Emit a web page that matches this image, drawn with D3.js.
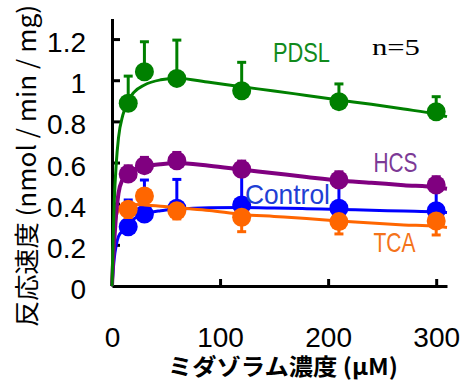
<!DOCTYPE html>
<html>
<head>
<meta charset="utf-8">
<script src="https://cdn.jsdelivr.net/npm/d3@7"></script>
<style>
  body { margin: 0; background: #fff; }
  svg { display: block; }
</style>
</head>
<body>
<svg id="chart" width="462" height="388"></svg>
<script>
// measured points (midazolam conc, uM)
var conc = [15, 30, 60, 120, 210, 300];

var pdslMean = [0.888, 1.041, 1.009, 0.949, 0.896, 0.847];
var pdslSd   = [0.132, 0.146, 0.186, 0.138, 0.086, 0.073];
var hcsMean  = [0.544, 0.585, 0.609, 0.567, 0.515, 0.491];
var hcsSd    = [0.04, 0.04, 0.04, 0.04, 0.04, 0.04];
var ctrlMean = [0.288, 0.350, 0.378, 0.394, 0.378, 0.366];
var ctrlSd   = [0.130, 0.165, 0.140, 0.165, 0.135, 0.115];
var tcaMean  = [0.373, 0.437, 0.366, 0.334, 0.313, 0.316];
var tcaSd    = [0.04, 0.04, 0.04, 0.070, 0.060, 0.068];

// fitted curves
var curveConc = [0, 1, 2, 4, 6, 10, 15, 20, 30, 45, 60, 90, 120, 150, 180, 210, 240, 270, 300, 310];
var pdslFit = [0, 0.22, 0.40, 0.60, 0.72, 0.83, 0.90, 0.94, 0.977, 1.002, 1.010, 0.990, 0.968, 0.948, 0.926, 0.904, 0.883, 0.860, 0.835, 0.823];
var hcsFit  = [0, 0.12, 0.21, 0.36, 0.45, 0.52, 0.55, 0.565, 0.580, 0.592, 0.598, 0.584, 0.566, 0.548, 0.530, 0.513, 0.502, 0.490, 0.480, 0.473];
var ctrlFit = [0, 0.07, 0.13, 0.20, 0.24, 0.27, 0.30, 0.325, 0.350, 0.366, 0.373, 0.380, 0.381, 0.379, 0.376, 0.372, 0.368, 0.364, 0.360, 0.357];
var tcaFit  = [0, 0.15, 0.26, 0.34, 0.37, 0.39, 0.395, 0.396, 0.394, 0.388, 0.380, 0.367, 0.348, 0.338, 0.328, 0.316, 0.306, 0.297, 0.290, 0.284];

var xTicks = [0, 100, 200, 300];
var yTicks = [0, 0.2, 0.4, 0.6, 0.8, 1, 1.2];

var svg = d3.select("#chart");

var x = d3.scaleLinear().domain([0, 310]).range([112, 447]);
var y = d3.scaleLinear().domain([0, 1.3]).range([286, 18.5]);

// series in drawing order (later = on top)
var series = [
  {name: "Control", color: "#0000ff", lw: 3, mean: ctrlMean, sd: ctrlSd, dir: -1, fit: ctrlFit,
   label: {s: 123, v: 0.40, w: 85, color: "#1f3fd4"}},
  {name: "TCA", color: "#ff6600", lw: 3, mean: tcaMean, sd: tcaSd, dir: 1, fit: tcaFit,
   label: {s: 242, v: 0.167, w: 42, color: "#f4731a"}},
  {name: "HCS", color: "#800080", lw: 4, mean: hcsMean, sd: hcsSd, dir: -1, fit: hcsFit,
   label: {s: 242, v: 0.555, w: 44, color: "#7c3a96"}},
  {name: "PDSL", color: "#008000", lw: 3, mean: pdslMean, sd: pdslSd, dir: -1, fit: pdslFit,
   label: {s: 149, v: 1.09, w: 57, color: "#118a1c"}}
];

var line = d3.line()
  .x(function(d) { return x(d[0]); })
  .y(function(d) { return y(d[1]); })
  .curve(d3.curveMonotoneX);

// axes
var yAxis = d3.axisLeft(y)
  .tickValues(yTicks)
  .tickSizeInner(-8)
  .tickSizeOuter(0)
  .tickPadding(26)
  .tickFormat(function(d) { return String(+d.toFixed(1)); });

var xAxis = d3.axisBottom(x)
  .tickValues(xTicks)
  .tickSizeInner(-7)
  .tickSizeOuter(0)
  .tickPadding(41);

var gy = svg.append("g")
  .attr("transform", "translate(" + x(0) + ",0)")
  .call(yAxis);
var gx = svg.append("g")
  .attr("transform", "translate(0," + y(0) + ")")
  .call(xAxis);

[gx, gy].forEach(function(g) {
  g.select(".domain").attr("stroke", "#000").attr("stroke-width", 3);
  g.selectAll(".tick line").attr("stroke", "#000").attr("stroke-width", 3);
  g.selectAll(".tick text")
    .attr("fill", "#000")
    .style("font-family", "'Liberation Sans', Arial, sans-serif")
    .style("font-size", "28px");
});
gy.selectAll(".tick text").attr("dy", "0.45em");
gy.selectAll(".tick").filter(function(d) { return d === 0; }).select("line").remove();
gx.selectAll(".tick").filter(function(d) { return d === 0; }).select("line").remove();

// series
series.forEach(function(s) {
  var g = svg.append("g");
  var pts = conc.map(function(c, i) { return [c, s.mean[i], s.sd[i]]; });

  g.append("path")
    .datum(curveConc.map(function(c, i) { return [c, s.fit[i]]; }))
    .attr("fill", "none")
    .attr("stroke", s.color)
    .attr("stroke-width", s.lw)
    .attr("d", line);

  // one-sided error bars
  var eb = g.selectAll(".eb").data(pts).enter().append("g");
  eb.append("line")
    .attr("x1", function(d) { return x(d[0]); })
    .attr("x2", function(d) { return x(d[0]); })
    .attr("y1", function(d) { return y(d[1]); })
    .attr("y2", function(d) { return y(d[1] - s.dir * d[2]); })
    .attr("stroke", s.color)
    .attr("stroke-width", 3);
  eb.append("line")
    .attr("x1", function(d) { return x(d[0]) - 4.5; })
    .attr("x2", function(d) { return x(d[0]) + 4.5; })
    .attr("y1", function(d) { return y(d[1] - s.dir * d[2]); })
    .attr("y2", function(d) { return y(d[1] - s.dir * d[2]); })
    .attr("stroke", s.color)
    .attr("stroke-width", 3);

  g.selectAll("circle").data(pts).enter().append("circle")
    .attr("cx", function(d) { return x(d[0]); })
    .attr("cy", function(d) { return y(d[1]); })
    .attr("r", 9.5)
    .attr("fill", s.color);
});

// series labels
series.forEach(function(s) {
  svg.append("text")
    .attr("x", x(s.label.s))
    .attr("y", y(s.label.v))
    .attr("textLength", s.label.w)
    .attr("lengthAdjust", "spacingAndGlyphs")
    .attr("fill", s.label.color)
    .style("font-family", "'Liberation Sans', Arial, sans-serif")
    .style("font-size", "28px")
    .text(s.name);
});

svg.append("text")
  .attr("x", x(240.5))
  .attr("y", y(1.122))
  .attr("textLength", 48)
  .attr("lengthAdjust", "spacingAndGlyphs")
  .attr("fill", "#000")
  .style("font-family", "'Liberation Serif', 'Times New Roman', serif")
  .style("font-size", "24px")
  .text("n=5");

// axis titles
svg.append("text")
  .attr("transform", "translate(25,166) rotate(-90)")
  .attr("text-anchor", "middle")
  .attr("dominant-baseline", "central")
  .attr("textLength", 322)
  .attr("lengthAdjust", "spacingAndGlyphs")
  .attr("fill", "#000")
  .style("font-family", "'Noto Sans CJK JP', sans-serif")
  .style("font-size", "25px")
  .text("反応速度 (nmol / min / mg)");

svg.append("text")
  .attr("x", 283)
  .attr("y", 375)
  .attr("text-anchor", "middle")
  .attr("textLength", 230)
  .attr("lengthAdjust", "spacingAndGlyphs")
  .attr("fill", "#000")
  .style("font-family", "'Noto Sans CJK JP', sans-serif")
  .style("font-size", "23px")
  .style("font-weight", "bold")
  .text("ミダゾラム濃度 (μM)");
</script>
</body>
</html>
